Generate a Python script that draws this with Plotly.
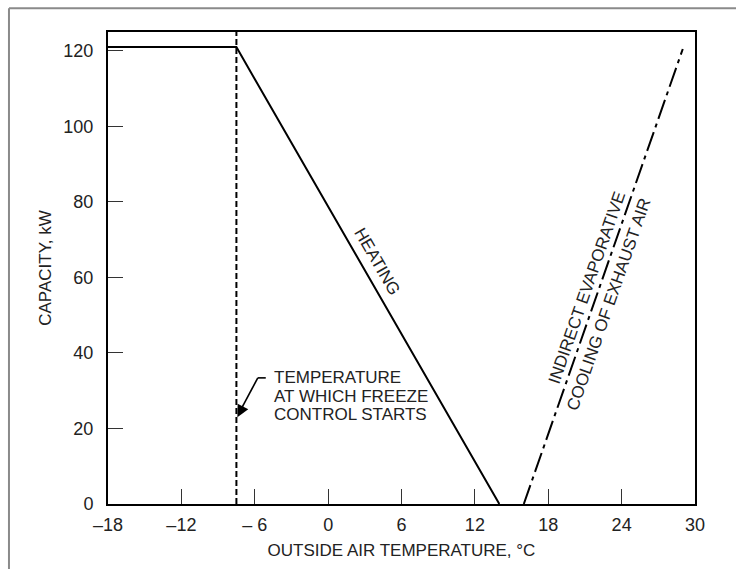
import plotly.graph_objects as go

# ---- data ----
heat_x = [-18, -7.5, 14.0]
heat_y = [121, 121, 0]
freeze_x = [-7.5, -7.5]
freeze_y = [0, 125]
cool_x = [16.0, 29.0]
cool_y = [0, 120.5]

x_tickvals = [-18, -12, -6, 0, 6, 12, 18, 24, 30]
x_ticktext = ["\u201318", "\u201312", "\u2013 6", "0", "6", "12", "18", "24", "30"]
y_tickvals = [0, 20, 40, 60, 80, 100, 120]
y_ticktext = ["0", "20", "40", "60", "80", "100", "120"]

FONT = "Liberation Sans, Arial, Helvetica, sans-serif"
TXT = "#222222"

fig = go.Figure()
fig.add_trace(go.Scatter(x=heat_x, y=heat_y, mode="lines",
                         line=dict(color="black", width=2), hoverinfo="skip"))
fig.add_trace(go.Scatter(x=freeze_x, y=freeze_y, mode="lines",
                         line=dict(color="black", width=2, dash="6px,3px"), hoverinfo="skip"))
fig.add_trace(go.Scatter(x=cool_x, y=cool_y, mode="lines",
                         line=dict(color="black", width=2, dash="20px,5px,4px,5px"), hoverinfo="skip"))

annotations = [
    dict(x=-4.6, y=33.4, text="TEMPERATURE", showarrow=False, xanchor="left", yanchor="middle"),
    dict(x=-4.6, y=28.6, text="AT WHICH FREEZE", showarrow=False, xanchor="left", yanchor="middle"),
    dict(x=-4.6, y=23.7, text="CONTROL STARTS", showarrow=False, xanchor="left", yanchor="middle"),
    dict(x=-7.42, y=23.0, text="", showarrow=True, ax=-6.9, ay=26.2, axref="x", ayref="y",
         arrowhead=2, arrowsize=1.5, arrowwidth=1.6, arrowcolor="black", standoff=0, startstandoff=0),
    dict(x=4.0, y=64.2, text="HEATING", showarrow=False, textangle=60,
         xanchor="center", yanchor="middle"),
    dict(x=21.18, y=57.3, text="INDIRECT EVAPORATIVE", showarrow=False,
         textangle=-70.8, xanchor="center", yanchor="middle"),
    dict(x=23.0, y=53.0, text="COOLING OF EXHAUST AIR", showarrow=False,
         textangle=-70.8, xanchor="center", yanchor="middle"),
]
for a in annotations:
    a.setdefault("font", dict(family=FONT, size=17, color=TXT))
    a["xref"] = "x"
    a["yref"] = "y"

shapes = [
    # arrow shaft and short horizontal lead
    dict(type="line", xref="x", yref="y", x0=-5.75, x1=-7.3, y0=33.4, y1=24.0,
         line=dict(color="black", width=1.6)),
    dict(type="line", xref="x", yref="y", x0=-5.75, x1=-5.1, y0=33.4, y1=33.4,
         line=dict(color="black", width=1.6)),
    # outer frame (gray, left & top)
    dict(type="line", xref="paper", yref="paper", x0=-0.1687, x1=-0.1687, y0=-0.14, y1=1.0505,
         line=dict(color="#8a8a8a", width=2)),
    dict(type="line", xref="paper", yref="paper", x0=-0.1687, x1=1.08, y0=1.0505, y1=1.0505,
         line=dict(color="#8a8a8a", width=2)),
]

fig.update_layout(
    width=736, height=569,
    margin=dict(l=108, r=41, t=32, b=62),
    paper_bgcolor="white", plot_bgcolor="white",
    showlegend=False,
    font=dict(family=FONT, size=17, color=TXT),
    annotations=annotations,
    shapes=shapes,
)
fig.update_xaxes(
    range=[-18, 30], tickvals=x_tickvals, ticktext=x_ticktext,
    showgrid=False, zeroline=False, showline=True, linecolor="black", linewidth=2, mirror=True,
    ticks="inside", ticklen=15, tickwidth=1.3, tickcolor="#333333",
    ticklabelstandoff=3,
    tickfont=dict(family=FONT, size=18, color=TXT),
    title=dict(text="OUTSIDE AIR TEMPERATURE, \u00b0C", font=dict(family=FONT, size=17, color=TXT), standoff=11),
)
fig.update_yaxes(
    range=[0, 125], tickvals=y_tickvals, ticktext=y_ticktext,
    showgrid=False, zeroline=False, showline=True, linecolor="black", linewidth=2, mirror=True,
    ticks="inside", ticklen=15, tickwidth=1.3, tickcolor="#333333",
    ticklabelstandoff=9,
    tickfont=dict(family=FONT, size=18, color=TXT),
    title=dict(text="CAPACITY, kW", font=dict(family=FONT, size=17, color=TXT), standoff=7),
)

fig.write_html("out.html")
